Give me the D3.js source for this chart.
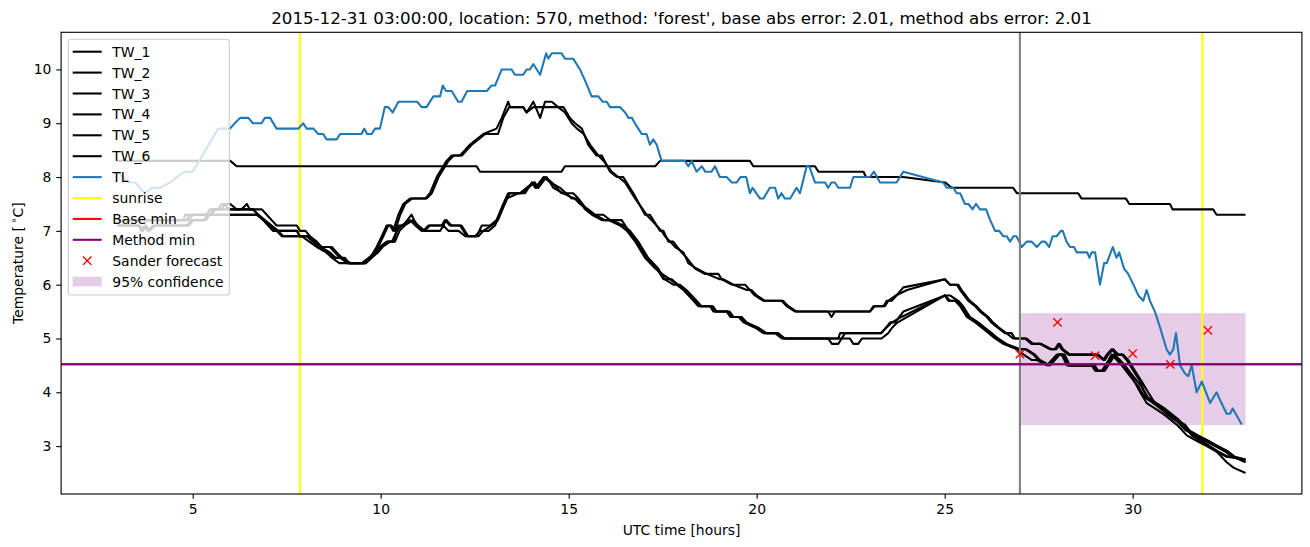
<!DOCTYPE html>
<html><head><meta charset="utf-8">
<script src="https://cdn.jsdelivr.net/npm/d3@7"></script>
<style>
body{margin:0;background:#fff}
svg{display:block}
text{font-family:"DejaVu Sans",sans-serif;fill:#000}
</style>
</head><body>
<svg id="c" width="1310" height="547"></svg>
<script>
// ---------------- DATA ----------------
const titleText = "2015-12-31 03:00:00, location: 570, method: 'forest', base abs error: 2.01, method abs error: 2.01";
const xLabel = "UTC time [hours]";
const xTicks = [5, 10, 15, 20, 25, 30];
const yTicks = [3, 4, 5, 6, 7, 8, 9, 10];

// [hour, temperature]
const tw1 = [[3.0,8.3],[6.0,8.3],[6.17,8.2],[12.55,8.2],[12.64,8.1],[14.81,8.1],[14.9,8.2],[17.3,8.2],[17.43,8.3],[19.82,8.3],[19.91,8.2],[21.55,8.2],[21.64,8.1],[22.84,8.1],[22.91,8.0],[23.9,8.0],[25.01,7.9],[25.19,7.8],[26.82,7.8],[26.92,7.7],[28.55,7.7],[28.64,7.6],[29.82,7.6],[29.91,7.5],[30.99,7.5],[31.06,7.4],[32.14,7.4],[32.23,7.3],[33.0,7.3]];

const tw2 = [[3.0,7.2],[4.75,7.2],[4.8,7.3],[5.37,7.3],[5.46,7.4],[5.68,7.4],[5.77,7.5],[6.0,7.5],[6.17,7.4],[6.3,7.4],[6.44,7.5],[6.52,7.4],[6.84,7.4],[6.97,7.3],[7.1,7.2],[7.23,7.1],[7.77,7.1],[7.85,7.0],[8.0,7.0],[8.12,6.9],[8.3,6.8],[8.43,6.7],[8.65,6.7],[8.78,6.6],[8.92,6.5],[9.14,6.4],[9.55,6.4],[9.72,6.5],[9.89,6.7],[10.03,6.9],[10.16,7.1],[10.25,7.1],[10.33,7.0],[10.47,7.3],[10.6,7.5],[10.78,7.6],[11.18,7.6],[11.31,7.7],[11.49,8.0],[11.75,8.3],[11.89,8.4],[12.11,8.4],[12.24,8.5],[12.37,8.6],[12.55,8.7],[12.73,8.8],[13.08,8.9],[13.22,9.1],[13.39,9.4],[13.44,9.3],[13.79,9.3],[13.88,9.2],[14.06,9.4],[14.24,9.1],[14.37,9.4],[14.55,9.4],[14.72,9.3],[14.86,9.3],[15.03,9.1],[15.17,9.0],[15.35,8.9],[15.52,8.6],[15.74,8.4],[15.88,8.4],[16.1,8.1],[16.28,8.0],[16.45,8.0],[16.72,7.7],[17.03,7.3],[17.16,7.3],[17.43,7.0],[17.52,7.0],[17.65,6.8],[17.78,6.8],[18.0,6.6],[18.14,6.5],[18.36,6.3],[18.62,6.2],[18.98,6.2],[19.07,6.1],[19.34,6.0],[19.69,6.0],[19.82,5.9],[19.95,5.8],[20.18,5.7],[20.66,5.7],[20.8,5.6],[21.02,5.5],[21.9,5.5],[21.99,5.4],[22.08,5.5],[23.01,5.5],[23.1,5.6],[23.37,5.6],[23.46,5.7],[23.59,5.7],[23.72,5.8],[23.9,5.95],[25.01,6.1],[25.14,6.0],[25.32,6.0],[25.41,5.9],[25.63,5.7],[25.81,5.6],[25.94,5.5],[26.12,5.4],[26.24,5.3],[26.41,5.2],[26.6,5.1],[26.78,5.1],[26.87,5.0],[27.14,5.0],[27.31,4.9],[27.53,4.9],[27.8,4.8],[27.93,4.8],[28.02,4.9],[28.11,4.8],[28.29,4.7],[29.04,4.7],[29.22,4.6],[29.31,4.7],[29.44,4.8],[29.57,4.7],[29.71,4.7],[29.84,4.6],[30.02,4.4],[30.2,4.2],[30.37,3.9],[30.55,3.8],[30.73,3.7],[30.9,3.6],[31.08,3.5],[31.35,3.4],[31.57,3.2],[31.79,3.1],[32.01,3.0],[32.23,2.9],[32.5,2.8],[32.68,2.8],[33.0,2.7]];

const tw3 = [[3.0,7.2],[4.84,7.2],[4.9,7.3],[5.46,7.3],[5.55,7.4],[5.77,7.4],[5.86,7.5],[5.95,7.4],[6.61,7.4],[6.74,7.3],[6.88,7.2],[7.01,7.1],[7.14,7.0],[7.77,7.0],[7.85,6.9],[8.03,6.9],[8.21,6.8],[8.38,6.7],[8.7,6.7],[8.83,6.6],[8.97,6.5],[9.2,6.4],[9.6,6.4],[9.76,6.5],[9.93,6.7],[10.07,6.9],[10.2,7.1],[10.29,7.1],[10.38,7.0],[10.52,7.3],[10.65,7.5],[10.83,7.6],[11.22,7.6],[11.36,7.7],[11.54,8.0],[11.8,8.3],[11.94,8.4],[12.16,8.4],[12.29,8.5],[12.42,8.6],[12.6,8.7],[12.78,8.8],[13.12,8.8],[13.26,9.1],[13.42,9.3],[13.79,9.3],[13.88,9.2],[14.06,9.3],[14.55,9.3],[14.72,9.3],[14.9,9.2],[15.08,9.0],[15.22,8.9],[15.4,8.8],[15.57,8.6],[15.79,8.4],[15.93,8.3],[16.14,8.1],[16.32,8.0],[16.5,7.9],[16.77,7.6],[17.07,7.3],[17.2,7.2],[17.47,7.0],[17.56,6.9],[17.7,6.8],[17.83,6.7],[18.05,6.6],[18.18,6.4],[18.4,6.3],[18.67,6.2],[19.02,6.1],[19.12,6.1],[19.38,6.0],[19.74,5.9],[19.86,5.9],[20.0,5.8],[20.22,5.7],[20.7,5.7],[20.84,5.6],[21.06,5.5],[23.01,5.5],[23.14,5.6],[23.41,5.6],[23.5,5.7],[23.7,5.8],[24.0,5.9],[25.0,6.1],[25.14,6.0],[25.36,6.0],[25.45,5.9],[25.67,5.7],[25.85,5.6],[25.98,5.5],[26.16,5.4],[26.28,5.3],[26.45,5.2],[26.64,5.1],[26.82,5.0],[27.18,5.0],[27.35,4.9],[27.57,4.9],[27.84,4.8],[27.97,4.8],[28.06,4.9],[28.15,4.8],[28.33,4.7],[29.08,4.7],[29.26,4.6],[29.35,4.7],[29.48,4.8],[29.62,4.7],[29.75,4.7],[29.88,4.6],[30.06,4.4],[30.24,4.2],[30.41,4.0],[30.59,3.8],[30.77,3.7],[30.94,3.6],[31.12,3.5],[31.39,3.4],[31.61,3.2],[31.83,3.1],[32.05,3.0],[32.27,2.9],[32.54,2.8],[33.0,2.75]];

const tw4 = [[3.0,7.1],[3.55,7.1],[3.64,7.0],[3.72,7.1],[3.8,7.0],[3.95,7.1],[4.84,7.1],[4.97,7.2],[5.3,7.2],[5.4,7.3],[6.7,7.3],[6.88,7.2],[7.06,7.1],[7.23,7.0],[7.37,6.9],[7.85,6.9],[8.05,6.9],[8.2,6.8],[8.36,6.7],[8.6,6.6],[8.75,6.5],[8.95,6.5],[9.1,6.4],[9.54,6.4],[9.72,6.5],[9.89,6.6],[10.0,6.7],[10.2,6.8],[10.34,6.8],[10.47,7.1],[10.6,7.1],[10.82,7.3],[10.96,7.1],[11.13,7.0],[11.27,7.1],[11.62,7.1],[11.71,7.2],[11.84,7.1],[12.11,7.1],[12.29,6.9],[12.55,6.9],[12.69,7.1],[12.91,7.1],[13.08,7.2],[13.26,7.5],[13.39,7.7],[13.7,7.7],[13.88,7.8],[14.06,7.9],[14.15,7.8],[14.37,8.0],[14.55,7.9],[14.81,7.7],[15.12,7.7],[15.26,7.6],[15.48,7.4],[15.66,7.3],[15.92,7.3],[16.1,7.2],[16.41,7.2],[16.59,7.0],[16.81,6.8],[17.07,6.5],[17.34,6.3],[17.52,6.1],[17.74,6.1],[17.91,6.0],[18.09,5.9],[18.23,5.8],[18.36,5.7],[18.49,5.6],[18.8,5.6],[18.89,5.5],[19.24,5.5],[19.34,5.4],[19.56,5.4],[19.69,5.3],[20.0,5.2],[20.22,5.1],[20.53,5.1],[20.71,5.0],[22.17,5.0],[22.22,5.1],[23.32,5.1],[23.55,5.3],[23.68,5.3],[23.9,5.5],[25.01,5.8],[25.14,5.7],[25.32,5.7],[25.45,5.6],[25.63,5.4],[25.85,5.3],[26.03,5.2],[26.21,5.1],[26.38,5.0],[26.6,4.9],[26.96,4.8],[27.14,4.8],[27.36,4.7],[27.49,4.6],[27.76,4.5],[27.89,4.6],[28.02,4.7],[28.15,4.7],[28.29,4.5],[28.95,4.5],[29.04,4.4],[29.22,4.4],[29.4,4.6],[29.48,4.7],[29.62,4.6],[29.75,4.5],[29.97,4.3],[30.2,4.0],[30.37,3.8],[30.59,3.7],[30.81,3.6],[30.99,3.5],[31.17,3.4],[31.44,3.2],[31.7,3.1],[31.97,3.0],[32.23,2.9],[32.5,2.7],[32.68,2.6],[33.0,2.5]];

const tw5 = [[3.0,7.2],[4.9,7.2],[5.0,7.3],[5.5,7.3],[5.6,7.4],[6.6,7.4],[6.74,7.3],[6.88,7.2],[7.01,7.1],[7.14,7.0],[7.77,7.0],[7.85,6.9],[8.1,6.9],[8.25,6.8],[8.4,6.7],[8.65,6.6],[8.8,6.5],[9.05,6.5],[9.15,6.4],[9.6,6.4],[9.76,6.5],[9.93,6.6],[10.05,6.7],[10.25,6.8],[10.38,6.8],[10.5,7.0],[10.64,7.1],[10.86,7.2],[11.0,7.1],[11.17,7.0],[11.31,7.1],[11.66,7.1],[11.75,7.2],[11.88,7.1],[12.15,7.1],[12.33,6.9],[12.6,6.9],[12.73,7.0],[12.95,7.1],[13.12,7.2],[13.3,7.5],[13.43,7.7],[13.74,7.7],[13.92,7.8],[14.1,7.9],[14.19,7.8],[14.41,8.0],[14.59,7.8],[14.85,7.7],[15.16,7.6],[15.3,7.5],[15.52,7.4],[15.7,7.3],[15.96,7.2],[16.14,7.2],[16.45,7.1],[16.63,7.0],[16.85,6.8],[17.11,6.5],[17.38,6.3],[17.56,6.1],[17.78,6.0],[17.95,6.0],[18.13,5.9],[18.27,5.8],[18.4,5.7],[18.53,5.6],[18.84,5.6],[18.93,5.5],[19.28,5.5],[19.38,5.4],[19.6,5.4],[19.73,5.3],[20.04,5.2],[20.26,5.1],[20.57,5.1],[20.75,5.0],[22.48,5.0],[22.57,4.9],[22.7,4.9],[22.8,5.0],[23.32,5.0],[23.5,5.1],[23.6,5.2],[23.75,5.3],[25.01,5.8],[25.14,5.8],[25.36,5.7],[25.49,5.6],[25.67,5.4],[25.89,5.3],[26.07,5.2],[26.25,5.1],[26.42,5.0],[26.64,4.9],[27.0,4.8],[27.18,4.8],[27.4,4.7],[27.53,4.6],[27.8,4.5],[27.93,4.6],[28.06,4.7],[28.19,4.7],[28.33,4.5],[28.99,4.5],[29.08,4.4],[29.26,4.4],[29.44,4.6],[29.52,4.7],[29.66,4.6],[29.79,4.5],[30.01,4.3],[30.24,4.1],[30.41,3.9],[30.63,3.8],[30.85,3.7],[31.03,3.6],[31.21,3.5],[31.48,3.3],[31.74,3.2],[32.01,3.1],[32.27,3.0],[32.54,2.9],[32.72,2.8],[33.0,2.75]];

const tw6 = [[3.0,7.1],[3.6,7.1],[3.68,7.0],[3.76,7.1],[3.85,7.0],[4.0,7.1],[4.9,7.1],[5.02,7.2],[5.35,7.2],[5.45,7.3],[6.75,7.3],[6.92,7.2],[7.1,7.1],[7.27,7.0],[7.41,6.9],[7.9,6.9],[8.1,6.8],[8.3,6.7],[8.55,6.6],[8.7,6.5],[8.9,6.4],[9.5,6.4],[9.68,6.5],[9.85,6.6],[9.97,6.7],[10.16,6.8],[10.3,6.8],[10.43,7.0],[10.56,7.1],[10.78,7.2],[10.92,7.1],[11.09,7.0],[11.23,7.0],[11.58,7.0],[11.67,7.1],[11.8,7.0],[12.07,7.0],[12.25,6.9],[12.51,6.9],[12.65,7.0],[12.87,7.0],[13.04,7.1],[13.22,7.4],[13.35,7.6],[13.66,7.7],[13.84,7.7],[14.02,7.9],[14.11,7.8],[14.33,8.0],[14.51,7.9],[14.77,7.8],[15.08,7.6],[15.22,7.6],[15.44,7.4],[15.62,7.3],[15.88,7.2],[16.06,7.2],[16.37,7.1],[16.55,7.0],[16.77,6.8],[17.03,6.5],[17.3,6.3],[17.48,6.2],[17.7,6.1],[17.87,6.0],[18.05,5.9],[18.19,5.8],[18.32,5.7],[18.45,5.6],[18.76,5.6],[18.85,5.5],[19.2,5.5],[19.3,5.4],[19.52,5.4],[19.65,5.3],[19.96,5.2],[20.18,5.1],[20.49,5.1],[20.67,5.0],[21.9,5.0],[22.0,4.9],[22.17,4.9],[22.26,5.0],[22.35,5.1],[23.3,5.1],[23.45,5.2],[23.6,5.3],[23.85,5.4],[24.0,5.45],[25.0,5.8],[25.1,5.7],[25.28,5.7],[25.41,5.6],[25.59,5.4],[25.81,5.3],[25.99,5.2],[26.17,5.1],[26.34,5.0],[26.56,4.9],[26.92,4.8],[27.1,4.7],[27.32,4.6],[27.45,4.6],[27.72,4.5],[27.85,4.6],[27.98,4.7],[28.11,4.7],[28.25,4.5],[28.91,4.5],[29.0,4.4],[29.18,4.4],[29.36,4.6],[29.44,4.7],[29.58,4.6],[29.71,4.5],[29.93,4.3],[30.16,4.1],[30.33,3.9],[30.55,3.8],[30.77,3.7],[30.95,3.6],[31.13,3.5],[31.4,3.3],[31.66,3.2],[31.93,3.1],[32.19,3.0],[32.46,2.9],[32.64,2.8],[33.0,2.72]];

const tl = [[3.0,8.1],[3.29,7.9],[3.47,7.9],[3.73,7.7],[3.91,7.8],[4.13,7.8],[4.4,7.9],[4.57,8.0],[4.8,8.1],[5.0,8.1],[5.68,8.9],[5.99,8.9],[6.12,9.0],[6.26,9.1],[6.48,9.1],[6.6,9.0],[6.83,9.0],[6.92,9.1],[7.06,9.1],[7.23,8.9],[7.81,8.9],[7.94,9.0],[8.03,8.9],[8.21,8.9],[8.34,8.8],[8.47,8.8],[8.56,8.7],[8.83,8.7],[8.92,8.8],[9.49,8.8],[9.56,8.9],[9.64,8.8],[9.76,8.8],[9.85,8.9],[9.98,8.9],[10.11,9.3],[10.2,9.3],[10.32,9.2],[10.47,9.4],[10.97,9.4],[11.09,9.3],[11.22,9.3],[11.4,9.5],[11.58,9.5],[11.65,9.7],[11.74,9.6],[11.89,9.6],[12.06,9.4],[12.15,9.4],[12.3,9.6],[12.82,9.6],[12.95,9.7],[13.04,9.7],[13.22,10.0],[13.48,10.0],[13.57,9.9],[13.79,9.9],[13.88,10.0],[13.97,10.0],[14.06,10.1],[14.15,10.0],[14.24,9.9],[14.4,10.3],[14.46,10.2],[14.55,10.3],[14.81,10.3],[14.9,10.2],[15.12,10.2],[15.3,10.0],[15.43,9.8],[15.61,9.5],[15.79,9.5],[15.9,9.4],[16.01,9.4],[16.1,9.3],[16.36,9.3],[16.5,9.2],[16.59,9.1],[16.68,9.1],[16.76,9.0],[16.85,8.9],[16.94,8.8],[17.07,8.8],[17.16,8.6],[17.25,8.7],[17.34,8.6],[17.47,8.3],[18.09,8.3],[18.18,8.2],[18.27,8.3],[18.4,8.1],[18.54,8.2],[18.63,8.1],[18.8,8.1],[18.89,8.2],[19.02,8.0],[19.2,8.0],[19.34,7.9],[19.47,7.9],[19.57,8.0],[19.72,8.0],[19.82,7.7],[19.89,7.8],[20.09,7.6],[20.18,7.6],[20.35,7.8],[20.49,7.8],[20.57,7.6],[20.66,7.7],[20.75,7.6],[20.89,7.6],[21.06,7.8],[21.15,7.7],[21.33,8.2],[21.4,8.2],[21.55,7.9],[21.82,7.9],[21.9,7.8],[21.99,7.9],[22.08,7.9],[22.17,7.8],[22.48,7.8],[22.57,8.0],[23.01,8.0],[23.12,8.1],[23.28,7.9],[23.72,7.9],[23.9,8.1],[24.96,7.9],[25.05,7.8],[25.23,7.8],[25.32,7.7],[25.41,7.7],[25.54,7.5],[25.63,7.5],[25.74,7.4],[25.83,7.5],[25.94,7.4],[26.1,7.4],[26.21,7.2],[26.34,7.0],[26.45,7.0],[26.56,6.9],[26.65,6.9],[26.74,6.8],[26.83,6.9],[26.91,6.9],[27.05,6.7],[27.18,6.8],[27.31,6.8],[27.45,6.7],[27.58,6.8],[27.67,6.8],[27.78,6.7],[27.87,6.9],[27.98,6.9],[28.09,7.0],[28.14,7.0],[28.24,6.8],[28.33,6.7],[28.44,6.7],[28.51,6.6],[28.79,6.6],[28.85,6.5],[28.91,6.6],[29.0,6.6],[29.13,6.0],[29.24,6.4],[29.31,6.4],[29.47,6.7],[29.57,6.5],[29.64,6.6],[29.77,6.3],[29.88,6.2],[30.02,6.0],[30.15,5.8],[30.28,5.7],[30.37,5.9],[30.46,5.7],[30.59,5.5],[30.73,5.2],[30.9,4.8],[30.99,4.7],[31.08,4.8],[31.15,5.1],[31.26,4.5],[31.39,4.35],[31.48,4.3],[31.57,4.5],[31.7,4.0],[31.84,4.2],[32.06,3.8],[32.23,4.0],[32.36,3.8],[32.5,3.6],[32.59,3.6],[32.66,3.7],[32.9,3.4]];

const sunriseHours = [7.85, 31.85];
const forecastHour = 27;
const baseMin = 4.52;
const methodMin = 4.52;
const sanderHours = [27, 28, 29, 30, 31, 32];
const sanderValues = [4.71, 5.30, 4.68, 4.72, 4.52, 5.15];
const confHours = [27, 33];
const confLow = 3.39;
const confHigh = 5.47;

const twSeries = [tw1, tw2, tw3, tw4, tw5, tw6];
const twNames = ["TW_1", "TW_2", "TW_3", "TW_4", "TW_5", "TW_6"];

// ---------------- DRAWING ----------------
const svg = d3.select("#c");
const L = 61.1, R = 1301.9, T = 32.3, B = 494;
const x = d3.scaleLinear().domain([1.5, 34.5]).range([L, R]);
const y = d3.scaleLinear().domain([2.11, 10.69]).range([B, T]);
const LW = 2.08;
const FS = 13.9;

svg.append("rect").attr("width", 1310).attr("height", 547).attr("fill", "#fff");

svg.append("clipPath").attr("id", "clip").append("rect")
  .attr("x", L).attr("y", T).attr("width", R - L).attr("height", B - T);
const plot = svg.append("g").attr("clip-path", "url(#clip)");

// confidence band
plot.append("rect")
  .attr("x", x(confHours[0])).attr("width", x(confHours[1]) - x(confHours[0]))
  .attr("y", y(confHigh)).attr("height", y(confLow) - y(confHigh))
  .attr("fill", "purple").attr("fill-opacity", 0.2);

const line = d3.line().x(d => x(d[0])).y(d => y(d[1]));

// sunrise lines
sunriseHours.forEach(h => {
  plot.append("line").attr("x1", x(h)).attr("x2", x(h)).attr("y1", T).attr("y2", B)
    .attr("stroke", "yellow").attr("stroke-width", LW);
});

// TW lines
twSeries.forEach(s => {
  plot.append("path").datum(s).attr("d", line).attr("fill", "none")
    .attr("stroke", "black").attr("stroke-width", LW).attr("stroke-linejoin", "round");
});
// TL
plot.append("path").datum(tl).attr("d", line).attr("fill", "none")
  .attr("stroke", "#1f77b4").attr("stroke-width", LW).attr("stroke-linejoin", "round");

// forecast time
plot.append("line").attr("x1", x(forecastHour)).attr("x2", x(forecastHour)).attr("y1", T).attr("y2", B)
  .attr("stroke", "gray").attr("stroke-width", LW);

// base min & method min
plot.append("line").attr("x1", L).attr("x2", R).attr("y1", y(baseMin)).attr("y2", y(baseMin))
  .attr("stroke", "red").attr("stroke-width", LW);
plot.append("line").attr("x1", L).attr("x2", R).attr("y1", y(methodMin)).attr("y2", y(methodMin))
  .attr("stroke", "purple").attr("stroke-width", LW);

// Sander forecast markers
const ms = 4.17;
function xMarker(g, cx, cy) {
  g.append("path").attr("d", `M${cx - ms},${cy - ms}L${cx + ms},${cy + ms}M${cx - ms},${cy + ms}L${cx + ms},${cy - ms}`)
    .attr("stroke", "red").attr("stroke-width", 1.39).attr("fill", "none");
}
sanderHours.forEach((h, i) => xMarker(plot, x(h), y(sanderValues[i])));

// frame
svg.append("rect").attr("x", L).attr("y", T).attr("width", R - L).attr("height", B - T)
  .attr("fill", "none").attr("stroke", "black").attr("stroke-width", 1.11);

// axes
const xAxis = svg.append("g").attr("transform", `translate(0,${B})`)
  .call(d3.axisBottom(x).tickValues(xTicks).tickFormat(d3.format("d")).tickSize(4.86).tickPadding(4.86));
const yAxis = svg.append("g").attr("transform", `translate(${L},0)`)
  .call(d3.axisLeft(y).tickValues(yTicks).tickFormat(d3.format("d")).tickSize(4.86).tickPadding(4.86));
[xAxis, yAxis].forEach(a => {
  a.select(".domain").remove();
  a.selectAll(".tick line").attr("stroke", "black").attr("stroke-width", 1.11);
  a.selectAll(".tick text").attr("font-size", FS).attr("font-family", "DejaVu Sans").attr("fill", "black");
});

// title & labels
svg.append("text").attr("x", (L + R) / 2).attr("y", 24).attr("text-anchor", "middle")
  .attr("font-size", 16.67).text(titleText);
svg.append("text").attr("x", (L + R) / 2).attr("y", 534.5).attr("text-anchor", "middle")
  .attr("font-size", FS).text(xLabel);
const yl = svg.append("text").attr("transform", `translate(22.5,${(T + B) / 2}) rotate(-90)`)
  .attr("text-anchor", "middle").attr("font-size", FS);
yl.append("tspan").text("Temperature [");
yl.append("tspan").attr("font-size", FS * 0.7).attr("dy", -5.5).attr("dx", 2.5).text("\u2218");
yl.append("tspan").attr("dy", 5.5).text("C]");

// legend
const legendItems = twNames.map(n => ({label: n, type: "line", color: "black"}))
  .concat([
    {label: "TL", type: "line", color: "#1f77b4"},
    {label: "sunrise", type: "line", color: "yellow"},
    {label: "Base min", type: "line", color: "red"},
    {label: "Method min", type: "line", color: "purple"},
    {label: "Sander forecast", type: "marker", color: "red"},
    {label: "95% confidence", type: "patch", color: "purple"}
  ]);
const lg = svg.append("g");
lg.append("rect").attr("x", 68.3).attr("y", 39.3).attr("width", 161).attr("height", 255.7)
  .attr("rx", 2.8).attr("fill", "white").attr("fill-opacity", 0.8)
  .attr("stroke", "#cccccc").attr("stroke-width", 1.11);
legendItems.forEach((it, i) => {
  const cy = 51.7 + i * 20.9;
  if (it.type === "line") {
    lg.append("line").attr("x1", 72.7).attr("x2", 101.7).attr("y1", cy).attr("y2", cy)
      .attr("stroke", it.color).attr("stroke-width", LW);
  } else if (it.type === "marker") {
    xMarker(lg, 87.2, cy);
  } else {
    lg.append("rect").attr("x", 72.7).attr("y", cy - 4.9).attr("width", 29).attr("height", 9.7)
      .attr("fill", it.color).attr("fill-opacity", 0.2);
  }
  lg.append("text").attr("x", 112.3).attr("y", cy).attr("dy", "0.36em")
    .attr("font-size", FS).text(it.label);
});
</script>
</body></html>
